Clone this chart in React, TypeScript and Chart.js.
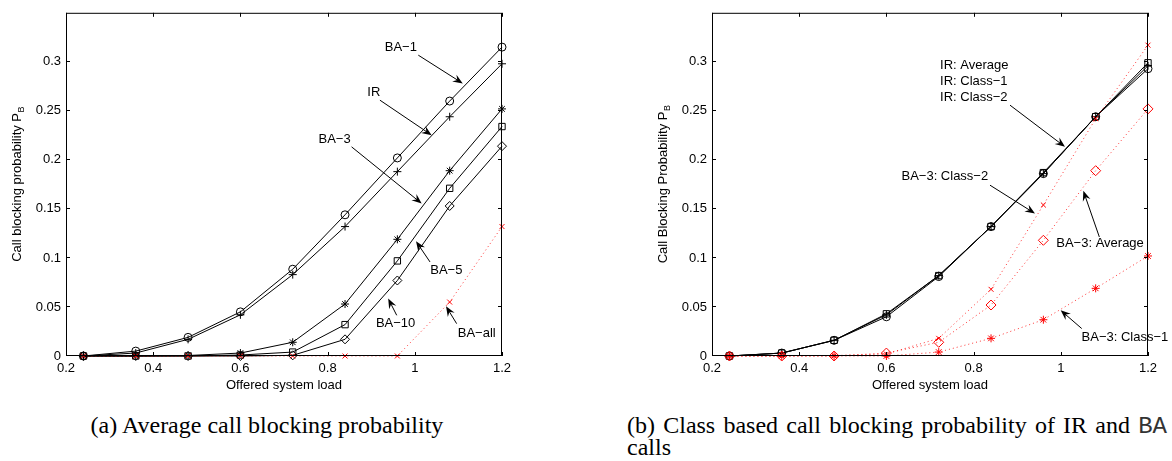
import React, { useEffect, useRef } from "react";
import { Chart, registerables } from "chart.js";

Chart.register(...registerables);

// ---------- data ----------
const loads = [0.24, 0.36, 0.48, 0.6, 0.72, 0.84, 0.96, 1.08, 1.2];
const xTickValues = [0.2, 0.4, 0.6, 0.8, 1, 1.2];
const yTickValues = [0, 0.05, 0.1, 0.15, 0.2, 0.25, 0.3];

// (a) average call blocking probability
const ba1 = [0, 0.005, 0.019, 0.045, 0.0885, 0.144, 0.202, 0.26, 0.315];
const irA = [0, 0.003, 0.017, 0.042, 0.083, 0.132, 0.188, 0.244, 0.298];
const ba3 = [0, 0, 0.0005, 0.003, 0.014, 0.053, 0.119, 0.189, 0.252];
const ba5 = [0, 0, 0, 0.001, 0.004, 0.032, 0.097, 0.171, 0.234];
const ba10 = [0, 0, 0, 0, 0.0007, 0.017, 0.077, 0.153, 0.214];
const baAll = [0, 0, 0, 0, 0, 0, 0, 0.055, 0.132];

// (b) class based call blocking probability
const irAverage = [0, 0.003, 0.016, 0.042, 0.082, 0.132, 0.186, 0.244, 0.296];
const irClass1 = [0, 0.003, 0.016, 0.04, 0.081, 0.132, 0.186, 0.244, 0.293];
const irClass2 = [0, 0.003, 0.016, 0.043, 0.082, 0.132, 0.187, 0.244, 0.299];
const ba3Class2 = [0, 0, 0.0005, 0.002, 0.018, 0.068, 0.154, 0.242, 0.317];
const ba3Average = [0, 0, 0, 0.003, 0.014, 0.052, 0.118, 0.189, 0.252];
const ba3Class1 = [0, 0, 0, 0, 0.004, 0.018, 0.037, 0.069, 0.102];

type Ann = {
  lines: string[];
  x: number;
  y: number;
  align?: "left" | "center";
  tail: [number, number];
  head: [number, number];
};

const annotationsA: Ann[] = [
  { lines: ["BA\u22121"], x: 0.968, y: 0.3143, tail: [1.008, 0.3068], head: [1.11, 0.278] },
  { lines: ["IR"], x: 0.906, y: 0.2684, tail: [0.92, 0.2609], head: [1.0387, 0.2252] },
  { lines: ["BA\u22123"], x: 0.816, y: 0.2208, tail: [0.855, 0.2133], head: [1.0158, 0.1555] },
  { lines: ["BA\u22125"], x: 1.0723, y: 0.0874, tail: [1.0349, 0.0959], head: [1.0028, 0.117] },
  { lines: ["BA\u221210"], x: 0.956, y: 0.0331, tail: [0.9585, 0.0415], head: [0.939, 0.0586] },
  { lines: ["BA\u2212all"], x: 1.142, y: 0.0235, tail: [1.096, 0.033], head: [1.0716, 0.0507] },
];

const annotationsB: Ann[] = [
  {
    lines: ["IR: Average", "IR: Class\u22121", "IR: Class\u22122"],
    x: 0.723,
    y: 0.2966,
    align: "left",
    tail: [0.8835, 0.2558],
    head: [1.0096, 0.2133],
  },
  { lines: ["BA\u22123: Class\u22122"], x: 0.734, y: 0.1827, tail: [0.8376, 0.1742], head: [0.9408, 0.1453] },
  { lines: ["BA\u22123: Average"], x: 1.09, y: 0.1147, tail: [1.0884, 0.1214], head: [1.0517, 0.1684] },
  { lines: ["BA\u22123: Class\u22121"], x: 1.147, y: 0.0194, tail: [1.048, 0.028], head: [0.9997, 0.0466] },
];

// ---------- styles ----------
const FONT = '"Liberation Sans", Arial, Helvetica, sans-serif';
const RED = "#ff0000";

function series(label: string, values: number[], pointStyle: string, red: boolean, radius = 4) {
  return {
    label,
    data: loads.map((x, i) => ({ x, y: values[i] })),
    borderColor: red ? "rgba(255,0,0,0.8)" : "#000",
    borderWidth: 1,
    borderDash: red ? [1, 3] : [],
    pointStyle,
    pointRadius: radius,
    pointBorderColor: red ? RED : "#000",
    pointBackgroundColor: "rgba(0,0,0,0)",
    pointBorderWidth: 1,
    tension: 0,
    clip: false as const,
  };
}

function drawArrow(ctx: CanvasRenderingContext2D, x1: number, y1: number, x2: number, y2: number) {
  const dx = x2 - x1;
  const dy = y2 - y1;
  const len = Math.hypot(dx, dy) || 1;
  const ux = dx / len;
  const uy = dy / len;
  const L = 10;
  const W = 4;
  ctx.beginPath();
  ctx.moveTo(x1, y1);
  ctx.lineTo(x2 - ux * L * 0.5, y2 - uy * L * 0.5);
  ctx.stroke();
  const bx = x2 - ux * L;
  const by = y2 - uy * L;
  ctx.beginPath();
  ctx.moveTo(x2, y2);
  ctx.lineTo(bx - uy * W, by + ux * W);
  ctx.lineTo(x2 - ux * L * 0.65, y2 - uy * L * 0.65);
  ctx.lineTo(bx + uy * W, by - ux * W);
  ctx.closePath();
  ctx.fill();
}

function makePlugin(anns: Ann[], yTitle: string) {
  return {
    id: "frameAnn",
    afterDraw(chart: any) {
      const { ctx, chartArea: a, scales } = chart;
      const xs = scales.x;
      const ys = scales.y;
      ctx.save();
      ctx.strokeStyle = "#000";
      ctx.fillStyle = "#000";
      ctx.lineWidth = 1;
      // frame
      ctx.strokeRect(a.left + 0.5, a.top + 0.5, a.right - a.left - 1, a.bottom - a.top - 1);
      // inward ticks
      const T = 4;
      ctx.beginPath();
      xTickValues.forEach((v) => {
        const px = Math.round(xs.getPixelForValue(v)) + 0.5;
        ctx.moveTo(px, a.bottom);
        ctx.lineTo(px, a.bottom - T);
        ctx.moveTo(px, a.top);
        ctx.lineTo(px, a.top + T);
      });
      yTickValues.forEach((v) => {
        const py = Math.round(ys.getPixelForValue(v)) - 0.5;
        ctx.moveTo(a.left, py);
        ctx.lineTo(a.left + T, py);
        ctx.moveTo(a.right, py);
        ctx.lineTo(a.right - T, py);
      });
      ctx.stroke();

      // x title
      ctx.font = `13px ${FONT}`;
      ctx.textAlign = "center";
      ctx.textBaseline = "middle";
      ctx.fillText("Offered system load", (a.left + a.right) / 2, a.bottom + 29);

      // y title with subscript
      const mainW = ctx.measureText(yTitle + "P").width;
      ctx.font = `9px ${FONT}`;
      const subW = ctx.measureText("B").width;
      const total = mainW + subW;
      ctx.save();
      ctx.translate(a.left - 49, (a.top + a.bottom) / 2);
      ctx.rotate(-Math.PI / 2);
      ctx.textAlign = "left";
      ctx.textBaseline = "middle";
      ctx.font = `13px ${FONT}`;
      ctx.fillText(yTitle + "P", -total / 2, 0);
      ctx.font = `9px ${FONT}`;
      ctx.fillText("B", -total / 2 + mainW + 0.5, 5);
      ctx.restore();

      // annotations
      ctx.font = `13px ${FONT}`;
      ctx.textBaseline = "middle";
      anns.forEach((an) => {
        const tx = xs.getPixelForValue(an.x);
        const ty = ys.getPixelForValue(an.y);
        ctx.textAlign = an.align === "left" ? "left" : "center";
        an.lines.forEach((ln, i) => ctx.fillText(ln, tx, ty + i * 16));
        drawArrow(
          ctx,
          xs.getPixelForValue(an.tail[0]),
          ys.getPixelForValue(an.tail[1]),
          xs.getPixelForValue(an.head[0]),
          ys.getPixelForValue(an.head[1])
        );
      });
      ctx.restore();
    },
  };
}

function buildOptions(padLeft: number, padRight: number) {
  return {
    responsive: false,
    animation: false as const,
    layout: { padding: { left: padLeft, right: padRight, top: 12, bottom: 0 } },
    plugins: { legend: { display: false }, tooltip: { enabled: false }, title: { display: false } },
    scales: {
      x: {
        type: "linear" as const,
        min: 0.2,
        max: 1.2,
        grid: { display: false, drawTicks: false },
        border: { display: false },
        afterBuildTicks: (s: any) => {
          s.ticks = xTickValues.map((value) => ({ value }));
        },
        afterFit: (s: any) => {
          s.height = 44;
        },
        ticks: {
          autoSkip: false,
          maxRotation: 0,
          padding: 5,
          color: "#000",
          font: { family: FONT, size: 13 },
          callback: (v: any) => String(Number(Number(v).toFixed(2))),
        },
      },
      y: {
        type: "linear" as const,
        min: 0,
        max: 0.35,
        grid: { display: false, drawTicks: false },
        border: { display: false },
        afterBuildTicks: (s: any) => {
          s.ticks = yTickValues.map((value) => ({ value }));
        },
        afterFit: (s: any) => {
          s.width = 66;
        },
        ticks: {
          autoSkip: false,
          padding: 5,
          color: "#000",
          font: { family: FONT, size: 13 },
          callback: (v: any) => String(Number(Number(v).toFixed(3))),
        },
      },
    },
  };
}

function PlotA() {
  const ref = useRef<HTMLCanvasElement>(null);
  useEffect(() => {
    const chart = new Chart(ref.current as HTMLCanvasElement, {
      type: "line",
      data: {
        datasets: [
          series("BA-all", baAll, "crossRot", true, 3.5),
          series("BA-1", ba1, "circle", false, 4),
          series("IR", irA, "cross", false, 4),
          series("BA-3", ba3, "star", false, 4),
          series("BA-5", ba5, "rect", false, 4.5),
          series("BA-10", ba10, "rectRot", false, 4.5),
        ] as any,
      },
      options: buildOptions(0, 38) as any,
      plugins: [makePlugin(annotationsA, "Call blocking probability ") as any],
    });
    return () => chart.destroy();
  }, []);
  return <canvas ref={ref} width={540} height={400} style={{ position: "absolute", left: 0, top: 0 }} />;
}

function PlotB() {
  const ref = useRef<HTMLCanvasElement>(null);
  useEffect(() => {
    const chart = new Chart(ref.current as HTMLCanvasElement, {
      type: "line",
      data: {
        datasets: [
          series("BA-3: Class-2", ba3Class2, "crossRot", true, 3.5),
          series("BA-3: Average", ba3Average, "rectRot", true, 5),
          series("BA-3: Class-1", ba3Class1, "star", true, 4),
          series("IR: Average", irAverage, "cross", false, 4),
          series("IR: Class-1", irClass1, "circle", false, 4),
          series("IR: Class-2", irClass2, "rect", false, 4.5),
        ] as any,
      },
      options: buildOptions(56, 24) as any,
      plugins: [makePlugin(annotationsB, "Call Blocking Probability ") as any],
    });
    return () => chart.destroy();
  }, []);
  return <canvas ref={ref} width={582} height={400} style={{ position: "absolute", left: 590, top: 0 }} />;
}

const SERIF = '"Liberation Serif", "Times New Roman", Times, serif';
const MONO = '"Liberation Mono", "Courier New", Courier, monospace';

export default function App() {
  return (
    <div
      style={{
        position: "absolute",
        left: 0,
        top: 0,
        width: 1172,
        height: 461,
        background: "#fff",
        overflow: "hidden",
      }}
    >
      <PlotA />
      <PlotB />
      <div
        style={{
          position: "absolute",
          left: 0,
          top: 414,
          width: 534,
          textAlign: "center",
          font: `24px ${SERIF}`,
          lineHeight: "22px",
          whiteSpace: "nowrap",
          color: "#000",
        }}
      >
        (a) Average call blocking probability
      </div>
      <div
        style={{
          position: "absolute",
          left: 627,
          top: 414,
          width: 540,
          textAlign: "justify",
          textAlignLast: "justify",
          font: `24px ${SERIF}`,
          lineHeight: "22px",
          whiteSpace: "nowrap",
          color: "#000",
        }}
      >
        (b) Class based call blocking probability of IR and{" "}
        <span style={{ fontFamily: MONO, color: "#333" }}>BA</span>
      </div>
      <div
        style={{
          position: "absolute",
          left: 627,
          top: 436,
          font: `24px ${SERIF}`,
          lineHeight: "22px",
          whiteSpace: "nowrap",
          color: "#000",
        }}
      >
        calls
      </div>
    </div>
  );
}
